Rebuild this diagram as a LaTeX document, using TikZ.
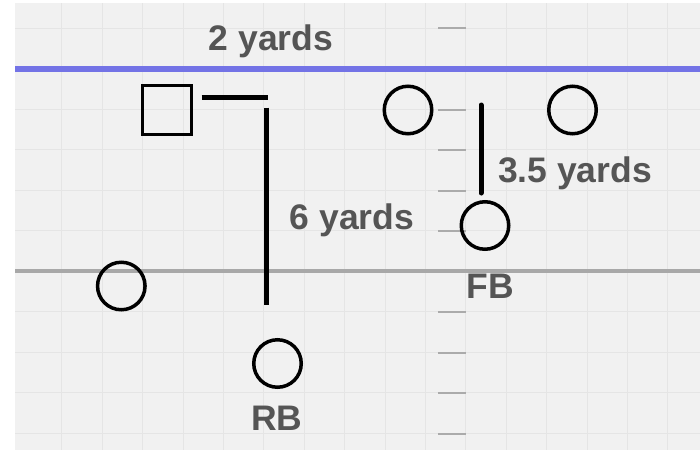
\documentclass[tikz,border=0pt]{standalone}
\usepackage{fontspec}
\setmainfont{Liberation Sans}
\begin{document}
\begin{tikzpicture}[x=1pt,y=-1pt,
  player/.style={draw=black,circle,line width=3.5pt,minimum size=47.5pt,inner sep=0pt},
  center/.style={draw=black,rectangle,line width=3pt,minimum size=49pt,inner sep=0pt},
  bar/.style={line width=5pt,black},
  lbl/.style={font=\fontsize{35.5}{35.5}\selectfont\bfseries,text=labelgray,inner sep=0pt},
  gridline/.style={draw=gridgray,line width=1pt},
  tick/.style={draw=tickgray,line width=2pt}]
\definecolor{bggray}{HTML}{F1F1F1}
\definecolor{gridgray}{HTML}{E5E5E5}
\definecolor{tickgray}{HTML}{ABABAB}
\definecolor{labelgray}{HTML}{555555}
\definecolor{losblue}{HTML}{7373E6}
\definecolor{midgray}{HTML}{A8A8A8}
\useasboundingbox (0,0) rectangle (700,450);
\fill[white] (0,0) rectangle (700,450);
\fill[bggray] (15,3) rectangle (700,450);
% grid
\foreach \k in {1,...,16} {\draw[gridline] ({21.5+40.4*\k},3) -- ({21.5+40.4*\k},450);}
\foreach \k in {0,...,10} {\draw[gridline] (15,{28.3+40.5*\k}) -- (700,{28.3+40.5*\k});}
% yard ticks
\foreach \y in {28.3,110,150.3,190.8,231.3,312.3,352.8,393.3,433.8} {\draw[tick] (438,\y) -- (466,\y);}
% lines
\draw[losblue,line width=5.5pt] (15,69) -- (700,69);
\draw[midgray,line width=3.5pt] (15,271) -- (700,271);
% players
\node[center] (c) at (166.7,110) {};
\node[player] (lg) at (408,110) {};
\node[player] (rg) at (572.5,110) {};
\node[player] (fb) at (485,225.5) {};
\node[player] (lt) at (121.3,286) {};
\node[player] (rb) at (277.5,363.5) {};
% measurement bars
\coordinate (h1) at (201.7,97.7);
\coordinate (h2) at (268.3,97.7);
\coordinate (v1) at (266.7,107.5);
\coordinate (v2) at (266.7,304.5);
\coordinate (f1) at (481,105);
\coordinate (f2) at (481,193);
\draw[bar] (h1) -- (h2);
\draw[bar] (v1) -- (v2);
\draw[bar,line cap=round] (f1) -- (f2);
% labels
\node[lbl] (t2) at (271,41.5) {2 yards};
\node[lbl] (t6) at (352,220) {6 yards};
\node[lbl] (t35) at (575,173) {3.5 yards};
\node[lbl] (tfb) at (490,286) {FB};
\node[lbl] (trb) at (276.7,418) {RB};
\end{tikzpicture}
\end{document}
